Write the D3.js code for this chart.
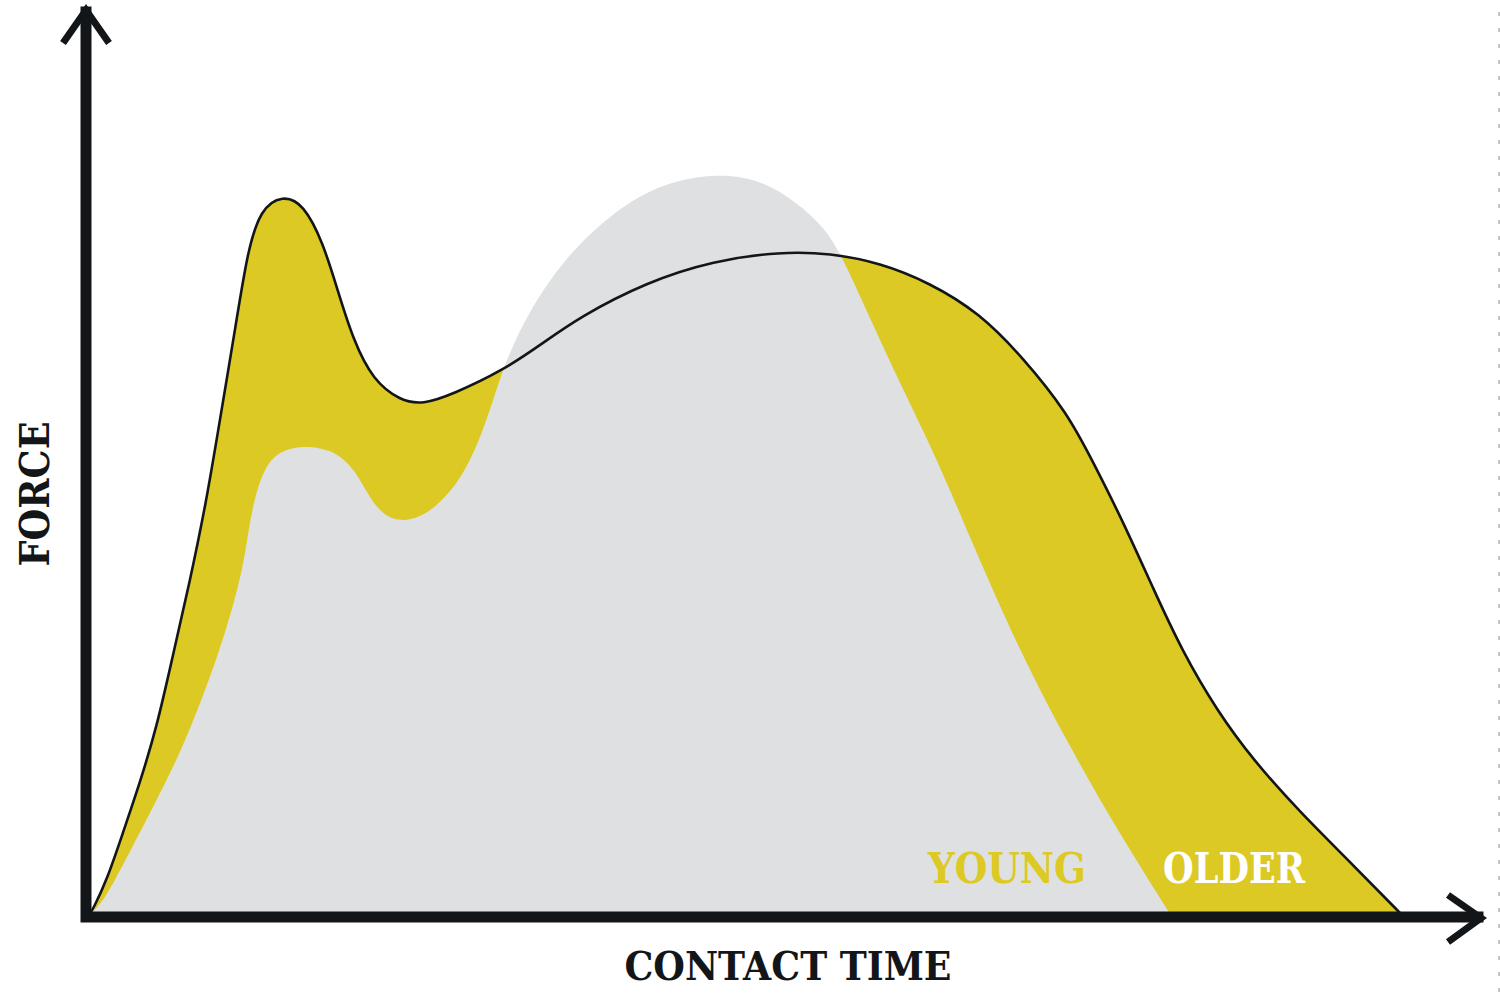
<!DOCTYPE html>
<html>
<head>
<meta charset="utf-8">
<script src="https://cdn.jsdelivr.net/npm/d3@7"></script>
<style>
  html, body { margin: 0; padding: 0; background: #ffffff; }
  svg { display: block; }
</style>
</head>
<body>
<div id="chart"></div>
<script>
// older curve (outlined, yellow)
const olderTime = [0, 0.2, 1.3, 2.5, 3.8, 5.1, 6.3, 7.6, 8.9, 9.7, 11.2, 12.0, 13.0, 14.7, 16.3, 17.8, 18.9, 20.1, 21.6, 23.7, 25.4, 27.7, 31.5, 34.4, 37.4, 42.5, 47.6, 52.7, 56.5, 60.3, 64.1, 67.9, 71.2, 74.6, 76.6, 78.9, 81.2, 83.4, 86.0, 88.8, 92.4, 96.2, 100];
const olderForce = [0, 0.4, 4.5, 10.8, 17.6, 25.2, 34.7, 44.7, 56.0, 64.5, 80.4, 89.4, 95.4, 97.3, 96.1, 90.8, 84.4, 77.6, 72.2, 69.4, 68.9, 70.3, 73.5, 77.0, 80.8, 85.5, 88.4, 89.6, 89.4, 88.1, 85.4, 81.3, 75.3, 67.8, 61.0, 52.9, 43.8, 35.4, 27.5, 20.7, 13.6, 6.9, 0];

// young curve (grey)
const youngTime = [0, 0.8, 3.1, 5.1, 7.1, 8.9, 10.5, 11.7, 12.1, 12.6, 13.4, 14.5, 16.6, 18.9, 20.4, 21.4, 22.7, 24.2, 25.7, 27.5, 29.0, 30.3, 31.3, 32.3, 33.6, 36.1, 39.9, 43.7, 48.1, 51.4, 54.0, 56.0, 57.3, 59.0, 61.6, 64.7, 67.4, 70.0, 72.5, 74.8, 77.1, 79.6, 82.4];
const youngForce = [0, 0.8, 8.5, 15.3, 22.5, 30.6, 38.8, 46.9, 51.9, 56.6, 60.6, 62.7, 63.4, 62.5, 59.6, 56.0, 53.4, 53.1, 54.0, 56.9, 61.0, 66.8, 72.6, 77.0, 81.7, 88.5, 95.0, 99.0, 100.3, 99.2, 96.2, 93.0, 89.4, 82.7, 72.6, 61.4, 49.9, 39.4, 30.2, 22.6, 15.3, 7.9, 0];

const seriesLabels = ["YOUNG", "OLDER"];
const axisTitles = ["CONTACT TIME", "FORCE"];

const W = 1500, H = 1002;
const YELLOW = "#dcc923", GREY = "#dfe0e2", INK = "#131619";
const serif = "'DejaVu Serif', 'Liberation Serif', serif";

const svg = d3.select("#chart").append("svg")
  .attr("width", W)
  .attr("height", H);

const x = d3.scaleLinear().domain([0, 100]).range([90, 1400]);
const y = d3.scaleLinear().domain([0, 100]).range([913, 175]);

function toPoints(ts, fs) {
  return ts.map((t, i) => [t, fs[i]]);
}
const older = toPoints(olderTime, olderForce);
const young = toPoints(youngTime, youngForce);

// basis spline smooths out the hand-read points
const curve = d3.curveBasis;

const area = d3.area()
  .x(d => x(d[0]))
  .y0(y(0))
  .y1(d => y(d[1]))
  .curve(curve);

const line = d3.line()
  .x(d => x(d[0]))
  .y(d => y(d[1]))
  .curve(curve);

function drawPath(g, d, fill, stroke, width) {
  return g.append("path")
    .attr("d", d)
    .attr("fill", fill)
    .attr("stroke", stroke)
    .attr("stroke-width", width)
    .attr("stroke-linejoin", "round");
}

function drawTxt(g, tx, ty, txt, fill, size, len, rotate = 0) {
  let t = g.append("text")
    .attr("x", tx)
    .attr("y", ty)
    .attr("fill", fill)
    .attr("font-family", serif)
    .attr("font-weight", "bold")
    .attr("font-size", size)
    .attr("text-anchor", "middle")
    .attr("textLength", len)
    .attr("lengthAdjust", "spacingAndGlyphs")
    .text(txt);
  if (rotate) t.attr("transform", `rotate(${rotate} ${tx} ${ty})`);
  return t;
}

// faint dotted edge on the right
svg.append("line")
  .attr("x1", 1499).attr("x2", 1499)
  .attr("y1", 12).attr("y2", H)
  .attr("stroke", "#b4b4b4")
  .attr("stroke-width", 1.5)
  .attr("stroke-dasharray", "4 12");

const plot = svg.append("g");
drawPath(plot, area(older), YELLOW, "none", 0);
drawPath(plot, area(young), GREY, "none", 0);
drawPath(plot, line(older), "none", INK, 2.6);

// axes with arrow heads
const axes = svg.append("g")
  .attr("fill", "none")
  .attr("stroke", INK);
axes.append("path")
  .attr("d", `M86,12 V917 H1478`)
  .attr("stroke-width", 11)
  .attr("stroke-linejoin", "miter")
  .attr("stroke-linecap", "square");
axes.append("path")
  .attr("d", `M63,43 L86,10 L109,43`)
  .attr("stroke-width", 7)
  .attr("stroke-linejoin", "miter");
axes.append("path")
  .attr("d", `M1448,895 L1481,918 L1448,942`)
  .attr("stroke-width", 7)
  .attr("stroke-linejoin", "miter");

// labels
drawTxt(svg, 1007, 883, seriesLabels[0], YELLOW, 42, 158);
drawTxt(svg, 1234, 883, seriesLabels[1], "#ffffff", 42, 142);
drawTxt(svg, 788, 980, axisTitles[0], INK, 40, 327);
drawTxt(svg, 49, 494, axisTitles[1], INK, 41, 145, -90);
</script>
</body>
</html>
